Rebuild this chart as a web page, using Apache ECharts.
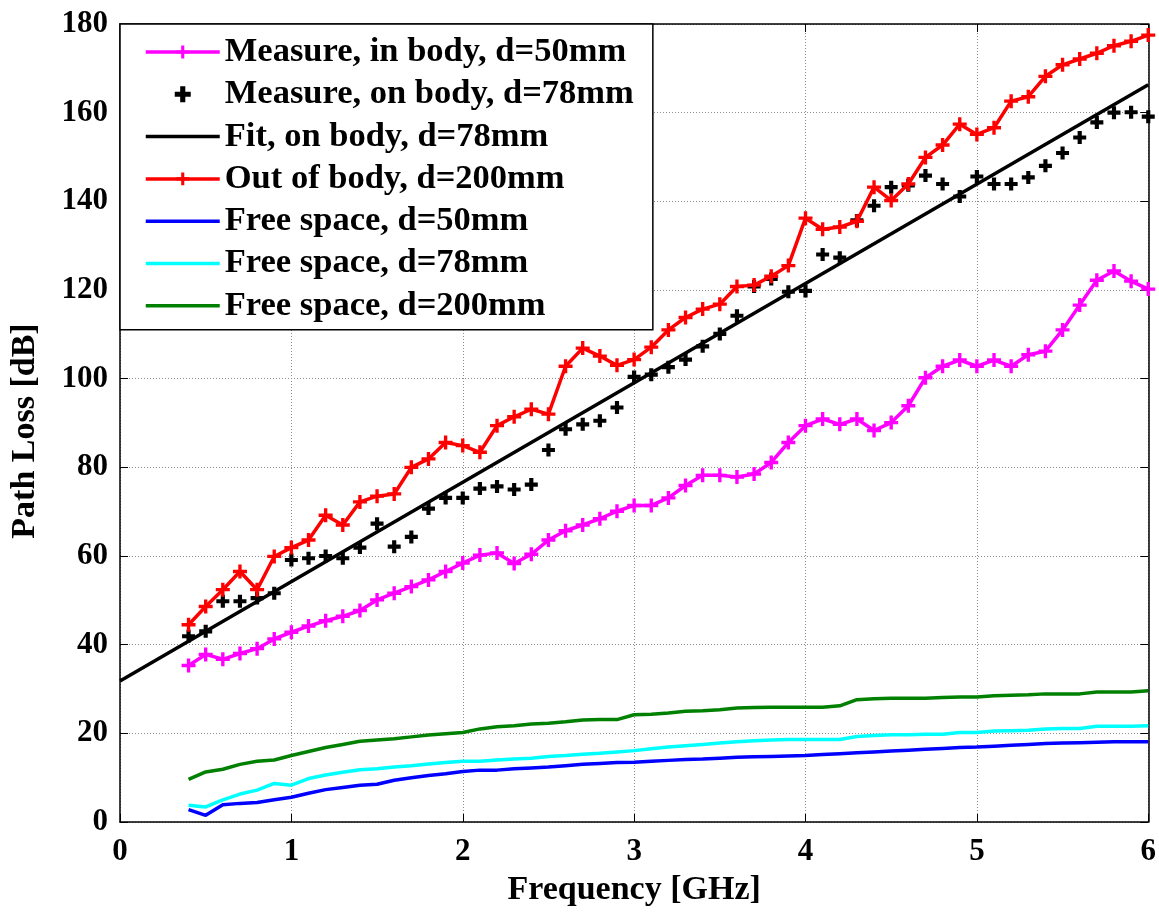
<!DOCTYPE html>
<html>
<head>
<meta charset="utf-8">
<title>Path Loss vs Frequency</title>
<script src="https://cdn.jsdelivr.net/npm/echarts@6/dist/echarts.min.js"></script>
<style>
  html, body { margin: 0; padding: 0; background: #fff; }
  #chart { width: 1159px; height: 912px; }
</style>
</head>
<body>
<div id="chart"></div>
<script>
// Frequency sweep points [GHz]
const freq = [0.4, 0.5, 0.6, 0.7, 0.8, 0.9, 1.0, 1.1, 1.2, 1.3, 1.4, 1.5, 1.6, 1.7, 1.8, 1.9,
  2.0, 2.1, 2.2, 2.3, 2.4, 2.5, 2.6, 2.7, 2.8, 2.9, 3.0, 3.1, 3.2, 3.3, 3.4, 3.5, 3.6, 3.7, 3.8, 3.9,
  4.0, 4.1, 4.2, 4.3, 4.4, 4.5, 4.6, 4.7, 4.8, 4.9, 5.0, 5.1, 5.2, 5.3, 5.4, 5.5, 5.6, 5.7, 5.8, 5.9, 6.0];

// Measured path loss [dB]
const inBody50 = [35.3, 37.8, 36.7, 38.0, 39.1, 41.3, 42.8, 44.2, 45.4, 46.4, 47.7, 50.1, 51.6, 53.1, 54.6, 56.5,
  58.4, 60.2, 60.7, 58.3, 60.4, 63.6, 65.7, 67.0, 68.4, 70.1, 71.4, 71.4, 73.1, 75.9, 78.2, 78.2, 77.8, 78.5, 81.1, 85.6,
  89.4, 90.9, 89.7, 90.9, 88.3, 90.1, 93.9, 100.2, 102.8, 104.2, 102.8, 104.2, 102.8, 105.4, 106.2, 111.0, 116.6, 122.2, 124.3, 122.0, 120.2];

const onBody78 = [41.9, 43.0, 49.8, 49.8, 50.5, 51.6, 59.1, 59.5, 60.0, 59.5, 61.9, 67.3, 62.1, 64.3, 70.7, 73.1,
  73.1, 75.2, 75.7, 75.0, 76.1, 83.9, 88.6, 89.7, 90.5, 93.5, 100.4, 100.9, 102.6, 104.3, 107.3, 110.1, 114.2, 120.8, 122.5, 119.6,
  119.8, 128.0, 127.3, 135.7, 139.0, 143.2, 143.6, 145.8, 143.9, 141.1, 145.6, 143.9, 143.9, 145.4, 148.0, 150.9, 154.4, 157.8, 160.0, 160.1, 159.1];

const outBody200 = [44.5, 48.6, 52.4, 56.5, 52.4, 59.9, 61.9, 63.6, 69.2, 67.0, 72.2, 73.5, 74.0, 80.0, 81.9, 85.6,
  84.9, 83.4, 89.4, 91.4, 93.1, 92.0, 102.8, 106.9, 105.1, 103.0, 104.3, 107.1, 111.0, 113.8, 115.7, 116.8, 120.8, 121.1, 123.1, 125.5,
  136.2, 133.7, 134.2, 135.5, 143.2, 140.2, 143.9, 149.9, 152.7, 157.4, 155.1, 156.6, 162.6, 163.6, 168.2, 170.8, 172.1, 173.4, 175.1, 176.1, 177.5];

// Linear fit of the on-body measurement (end points)
const fitFreq = [0, 6];
const fitLoss = [31.8, 166.3];

// Free-space path loss [dB]
const free50 = [2.8, 1.5, 3.9, 4.2, 4.4, 5.0, 5.6, 6.5, 7.3, 7.8, 8.3, 8.5, 9.4, 10.0, 10.5, 10.9,
  11.4, 11.7, 11.7, 12.0, 12.2, 12.4, 12.7, 13.0, 13.2, 13.4, 13.5, 13.7, 13.9, 14.1, 14.2, 14.4, 14.6, 14.7, 14.8, 14.9,
  15.0, 15.2, 15.4, 15.6, 15.8, 16.0, 16.2, 16.4, 16.6, 16.8, 16.9, 17.1, 17.3, 17.5, 17.7, 17.8, 17.9, 18.0, 18.1, 18.1, 18.1];

const free78 = [3.8, 3.4, 5.0, 6.3, 7.2, 8.7, 8.3, 9.8, 10.6, 11.2, 11.8, 12.0, 12.4, 12.7, 13.1, 13.4,
  13.7, 13.7, 14.0, 14.2, 14.4, 14.8, 15.0, 15.3, 15.5, 15.8, 16.1, 16.5, 16.9, 17.2, 17.5, 17.8, 18.1, 18.3, 18.5, 18.6,
  18.6, 18.6, 18.6, 19.3, 19.5, 19.7, 19.7, 19.8, 19.8, 20.2, 20.2, 20.5, 20.6, 20.7, 21.0, 21.1, 21.1, 21.6, 21.6, 21.6, 21.7];

const free200 = [9.6, 11.3, 11.9, 13.0, 13.7, 14.0, 15.0, 15.9, 16.8, 17.5, 18.2, 18.5, 18.8, 19.2, 19.6, 19.9,
  20.2, 21.0, 21.5, 21.7, 22.1, 22.3, 22.6, 23.0, 23.1, 23.1, 24.2, 24.3, 24.6, 25.0, 25.1, 25.3, 25.7, 25.8, 25.9, 25.9,
  25.9, 25.9, 26.2, 27.6, 27.8, 27.9, 27.9, 27.9, 28.1, 28.2, 28.2, 28.5, 28.6, 28.7, 28.9, 28.9, 28.9, 29.3, 29.3, 29.3, 29.6];

// Axis tick values
const xTicks = [0, 1, 2, 3, 4, 5, 6];
const yTicks = [0, 20, 40, 60, 80, 100, 120, 140, 160, 180];

const seriesNames = [
  'Measure, in body, d=50mm',
  'Measure, on body, d=78mm',
  'Fit, on body, d=78mm',
  'Out of body, d=200mm',
  'Free space, d=50mm',
  'Free space, d=78mm',
  'Free space, d=200mm'
];

const FONT = "'Liberation Serif', 'Times New Roman', serif";
const PLUS_THIN = 'path://M3.8,0H6.2V3.8H10V6.2H6.2V10H3.8V6.2H0V3.8H3.8Z';
const PLUS_BOLD = 'path://M3.4,0H6.6V3.4H10V6.6H6.6V10H3.4V6.6H0V3.4H3.4Z';

const pairs = (xs, ys) => xs.map((x, i) => [x, ys[i]]);

// Plain-line legend entries: hide the placeholder marker drawn in the icon
const lineOnly = name => ({ name: name, itemStyle: { opacity: 0 } });

const chart = echarts.init(document.getElementById('chart'), null, { renderer: 'canvas' });

const axisCommon = {
  type: 'value',
  axisLine: { show: true, onZero: false, lineStyle: { color: '#000', width: 1.5 } },
  axisTick: { show: true, inside: true, length: 8, lineStyle: { color: '#000', width: 1 } },
  minorTick: { show: false }
};

const option = {
  animation: false,
  backgroundColor: '#fff',
  grid: { left: 120, right: 9, top: 24, bottom: 85, containLabel: false },
  legend: {
    orient: 'vertical',
    left: 120,
    top: 24,
    selectedMode: false,
    backgroundColor: '#fff',
    borderColor: '#000',
    borderWidth: 1.5,
    borderRadius: 0,
    padding: [10, 19, 6, 24],
    itemWidth: 74,
    itemHeight: 16,
    itemGap: 6.3,
    lineStyle: { width: 3.5 },
    textStyle: { fontFamily: FONT, fontWeight: 'bold', fontSize: 34.5, color: '#000', lineHeight: 36 },
    data: [
      seriesNames[0],
      seriesNames[1],
      lineOnly(seriesNames[2]),
      seriesNames[3],
      lineOnly(seriesNames[4]),
      lineOnly(seriesNames[5]),
      lineOnly(seriesNames[6])
    ],
    z: 10
  },
  xAxis: [
    Object.assign({}, axisCommon, {
      position: 'bottom',
      min: xTicks[0], max: xTicks[xTicks.length - 1], interval: 1,
      name: 'Frequency [GHz]',
      nameLocation: 'middle',
      nameGap: 51,
      nameTextStyle: { fontFamily: FONT, fontWeight: 'bold', fontSize: 34, color: '#000' },
      axisLabel: { show: true, margin: 14, fontFamily: FONT, fontWeight: 'bold', fontSize: 31, color: '#000' },
      splitLine: { show: true, lineStyle: { color: '#8c8c8c', type: [1, 2], width: 1 } }
    }),
    Object.assign({}, axisCommon, {
      position: 'top',
      min: xTicks[0], max: xTicks[xTicks.length - 1], interval: 1,
      axisLabel: { show: false },
      splitLine: { show: false }
    })
  ],
  yAxis: [
    Object.assign({}, axisCommon, {
      position: 'left',
      min: yTicks[0], max: yTicks[yTicks.length - 1], interval: 20,
      name: 'Path Loss [dB]',
      nameLocation: 'middle',
      nameGap: 78,
      nameRotate: 90,
      nameTextStyle: { fontFamily: FONT, fontWeight: 'bold', fontSize: 34, color: '#000', padding: [0, 16, 0, 0] },
      axisLabel: { show: true, margin: 12, fontFamily: FONT, fontWeight: 'bold', fontSize: 31, color: '#000' },
      splitLine: { show: true, lineStyle: { color: '#8c8c8c', type: [1, 2], width: 1 } }
    }),
    Object.assign({}, axisCommon, {
      position: 'right',
      min: yTicks[0], max: yTicks[yTicks.length - 1], interval: 20,
      axisLabel: { show: false },
      splitLine: { show: false }
    })
  ],
  series: [
    {
      name: seriesNames[0], type: 'line', data: pairs(freq, inBody50),
      symbol: PLUS_THIN, symbolSize: 14, showSymbol: true,
      lineStyle: { color: '#ff00ff', width: 3.5 },
      itemStyle: { color: '#ff00ff', borderWidth: 0 },
      z: 3
    },
    {
      name: seriesNames[1], type: 'scatter', data: pairs(freq, onBody78),
      symbol: PLUS_BOLD, symbolSize: 13, symbolKeepAspect: true,
      itemStyle: { color: '#000', borderWidth: 0, opacity: 1 },
      z: 4
    },
    {
      name: seriesNames[2], type: 'line', data: pairs(fitFreq, fitLoss),
      symbol: 'none', showSymbol: false,
      lineStyle: { color: '#000', width: 3.5 },
      itemStyle: { color: '#000' },
      z: 5
    },
    {
      name: seriesNames[3], type: 'line', data: pairs(freq, outBody200),
      symbol: PLUS_THIN, symbolSize: 14, showSymbol: true,
      lineStyle: { color: '#ff0000', width: 3.5 },
      itemStyle: { color: '#ff0000', borderWidth: 0 },
      z: 6
    },
    {
      name: seriesNames[4], type: 'line', data: pairs(freq, free50),
      symbol: 'none', showSymbol: false,
      lineStyle: { color: '#0000ff', width: 3.5 },
      itemStyle: { color: '#0000ff' },
      z: 3
    },
    {
      name: seriesNames[5], type: 'line', data: pairs(freq, free78),
      symbol: 'none', showSymbol: false,
      lineStyle: { color: '#00ffff', width: 3.5 },
      itemStyle: { color: '#00ffff' },
      z: 3
    },
    {
      name: seriesNames[6], type: 'line', data: pairs(freq, free200),
      symbol: 'none', showSymbol: false,
      lineStyle: { color: '#008000', width: 3.5 },
      itemStyle: { color: '#008000' },
      z: 3
    }
  ]
};

chart.setOption(option);
</script>
</body>
</html>
